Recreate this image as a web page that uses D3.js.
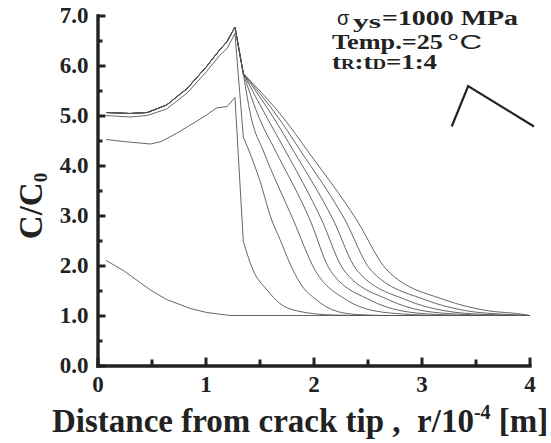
<!DOCTYPE html>
<html>
<head>
<meta charset="utf-8">
<script src="https://cdn.jsdelivr.net/npm/d3@7"></script>
<style>
body { margin: 0; background: #fff; }
svg { display: block; }
text { white-space: pre; }
</style>
</head>
<body>
<svg width="551" height="443"></svg>
<script>
// axis ticks
const xMajor = [0, 1, 2, 3, 4];
const xMinor = [0.5, 1.5, 2.5, 3.5];
const yMajor = [0, 1, 2, 3, 4, 5, 6, 7];
const yMinor = [0.5, 1.5, 2.5, 3.5, 4.5, 5.5, 6.5];

// C/C0 profiles, part up to the drop behind the peak (x in 1e-4 m)
const nearD = [[0.08,2.10],[0.24,1.90],[0.49,1.51],[0.64,1.32],[0.86,1.14],[1.01,1.06],[1.23,1.00]];
const nearC = [[0.08,4.52],[0.24,4.48],[0.49,4.43],[0.59,4.48],[0.73,4.64],[0.86,4.81],[1.01,5.01],[1.10,5.15],[1.20,5.18],[1.273,5.36],[1.35,2.48]];
const nearB = [[0.08,5.00],[0.30,4.97],[0.46,5.00],[0.64,5.13],[0.83,5.45],[1.01,5.88],[1.13,6.20],[1.20,6.34],[1.273,6.64],[1.35,4.57]];
const nearA = [[0.08,5.06],[0.30,5.04],[0.46,5.06],[0.64,5.21],[0.83,5.54],[1.01,5.98],[1.13,6.31],[1.20,6.48],[1.273,6.77],[1.35,5.84]];

// tails behind the peak
const tailD = [[1.23,1.00],[4.0,1.00]];
const tailC = [[1.35,2.48],[1.44,1.91],[1.57,1.51],[1.69,1.24],[1.875,1.08],[2.18,1.01],[2.5,1.0],[4.0,1.0]];
const tailB = [[1.35,4.57],[1.40,4.31],[1.50,3.72],[1.613,2.91],[1.69,2.52],[1.78,2.05],[1.875,1.65],[2.03,1.31],[2.18,1.11],[2.4,1.02],[2.7,1.0],[4.0,1.0]];
const tail1 = [[1.35,5.84],[1.428,4.91],[1.532,4.31],[1.813,2.91],[2.014,1.91],[2.307,1.31],[2.55,1.10],[2.9,1.02],[3.2,1.0],[4.0,1.0]];
const tail2 = [[1.35,5.84],[1.505,4.91],[1.644,4.31],[1.968,2.91],[2.153,1.91],[2.523,1.31],[2.8,1.10],[3.15,1.02],[3.5,1.0],[4.0,1.0]];
const tail3 = [[1.35,5.84],[1.581,4.91],[1.736,4.31],[2.076,2.91],[2.28,1.91],[2.70,1.31],[3.0,1.10],[3.4,1.02],[3.7,1.0],[4.0,1.0]];
const tail4 = [[1.35,5.84],[1.644,4.91],[1.810,4.31],[2.183,2.91],[2.40,1.91],[2.86,1.31],[3.2,1.10],[3.6,1.02],[4.0,1.0]];
const tail5 = [[1.35,5.84],[1.690,4.91],[1.875,4.31],[2.292,2.91],[2.53,1.91],[3.04,1.31],[3.4,1.10],[3.8,1.02],[4.0,1.0]];
const tail6 = [[1.35,5.84],[1.736,4.91],[1.940,4.31],[2.40,2.91],[2.68,1.91],[3.22,1.31],[3.6,1.10],[3.95,1.02],[4.0,1.0]];

// loading wave in the inset: rise : decay = 1 : 4
const loadWave = [[0,0],[1,1],[5,0]];

var svg = d3.select("svg");
var serif = "'Liberation Serif', 'Times New Roman', serif";
var sans = "'Liberation Sans', Arial, sans-serif";

var x = d3.scaleLinear([0, 4], [97.5, 529.5]);
var y = d3.scaleLinear([0, 7], [365.5, 15.5]);

var lineLin = d3.line().x(d => x(d[0])).y(d => y(d[1]));
var lineSmooth = d3.line().x(d => x(d[0])).y(d => y(d[1])).curve(d3.curveMonotoneX);

var profiles = [
    [nearD, tailD], [nearC, tailC], [nearB, tailB],
    [nearA, tail1], [nearA, tail2], [nearA, tail3],
    [nearA, tail4], [nearA, tail5], [nearA, tail6]
];

var g = svg.append("g");
profiles.forEach(function(p){
    g.append("path").attr("d", lineLin(p[0]))
        .attr("fill", "none").attr("stroke", "#555").attr("stroke-width", 0.9);
    g.append("path").attr("d", lineSmooth(p[1]))
        .attr("fill", "none").attr("stroke", "#555").attr("stroke-width", 0.9);
});

// axes
svg.append("g").attr("transform", "translate(97.5,0)")
    .call(d3.axisLeft(y).tickValues(yMajor).tickSize(-8).tickSizeOuter(0).tickPadding(9)
        .tickFormat(d3.format(".1f")));
svg.append("g").attr("transform", "translate(97.5,0)")
    .call(d3.axisLeft(y).tickValues(yMinor).tickSize(-5).tickSizeOuter(0).tickFormat(""))
    .call(a => a.select(".domain").remove());

svg.append("g").attr("transform", "translate(0,365.5)")
    .call(d3.axisBottom(x).tickValues(xMajor).tickSize(-8).tickSizeOuter(0).tickPadding(10)
        .tickFormat(d3.format("d")));
svg.append("g").attr("transform", "translate(0,365.5)")
    .call(d3.axisBottom(x).tickValues(xMinor).tickSize(-6).tickSizeOuter(0).tickFormat(""))
    .call(a => a.select(".domain").remove());

svg.selectAll(".domain").attr("stroke", "#222").attr("stroke-width", 3.4).attr("stroke-linecap", "square");
svg.selectAll(".tick line").attr("stroke", "#222").attr("stroke-width", 3);
svg.selectAll(".tick text").attr("font-family", serif).attr("font-weight", "bold")
    .attr("font-size", 23).attr("fill", "#222");

// axis titles
var yt = svg.append("text")
    .attr("transform", "translate(42,206) rotate(-90)")
    .attr("text-anchor", "middle")
    .attr("font-family", serif).attr("font-weight", "bold").attr("font-size", 33).attr("fill", "#222");
yt.append("tspan").text("C/C");
yt.append("tspan").text("0").attr("font-size", 19).attr("dy", 5);

var xt = svg.append("text")
    .attr("x", 52).attr("y", 432)
    .attr("font-family", serif).attr("font-weight", "bold").attr("font-size", 33).attr("fill", "#222");
xt.append("tspan").text("Distance from crack tip ,  r/10");
xt.append("tspan").text("-4").attr("font-size", 20).attr("dy", -13);
xt.append("tspan").text(" [m]").attr("dy", 13);

// annotation
var fs = 19;
svg.append("text").attr("x", 337).attr("y", 25).text("σ")
    .attr("font-family", sans).attr("font-size", 20).attr("fill", "#222");
svg.append("text").attr("x", 353).attr("y", 27.5).text("ys")
    .attr("font-family", serif).attr("font-weight", "bold").attr("font-size", fs).attr("fill", "#222")
    .attr("textLength", 28).attr("lengthAdjust", "spacingAndGlyphs");
svg.append("text").attr("x", 382).attr("y", 25).text("=1000 MPa")
    .attr("font-family", serif).attr("font-weight", "bold").attr("font-size", fs + 1).attr("fill", "#222")
    .attr("textLength", 136).attr("lengthAdjust", "spacingAndGlyphs");
svg.append("text").attr("x", 332).attr("y", 48.5).text("Temp.=25")
    .attr("font-family", serif).attr("font-weight", "bold").attr("font-size", fs + 1).attr("fill", "#222")
    .attr("textLength", 111).attr("lengthAdjust", "spacingAndGlyphs");
svg.append("text").attr("x", 447).attr("y", 48.5).text("°C")
    .attr("font-family", sans).attr("font-size", fs + 1).attr("fill", "#222")
    .attr("textLength", 35).attr("lengthAdjust", "spacingAndGlyphs");
var tr = svg.append("text").attr("x", 332).attr("y", 69)
    .attr("font-family", serif).attr("font-weight", "bold").attr("font-size", fs + 1).attr("fill", "#222")
    .attr("textLength", 105).attr("lengthAdjust", "spacingAndGlyphs");
tr.append("tspan").text("t");
tr.append("tspan").text("R").attr("font-size", 14);
tr.append("tspan").text(":t");
tr.append("tspan").text("D").attr("font-size", 14);
tr.append("tspan").text("=1:4");

// inset load wave
var wx = d3.scaleLinear([0, 5], [451.7, 534]);
var wy = d3.scaleLinear([0, 1], [126.5, 86]);
svg.append("path")
    .attr("d", d3.line().x(d => wx(d[0])).y(d => wy(d[1]))(loadWave))
    .attr("fill", "none").attr("stroke", "#222").attr("stroke-width", 2.2);
</script>
</body>
</html>
